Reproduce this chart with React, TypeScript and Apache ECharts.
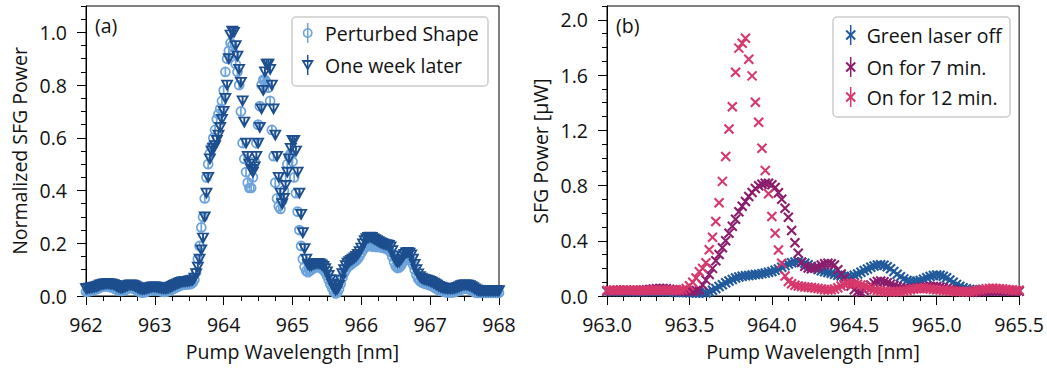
import React, { useEffect, useRef } from 'react';
import * as echarts from 'echarts';

// ---------- Panel (a): normalized SFG power, sampled every 0.025 nm from 962.000 nm ----------
const A_START = 962.0;
const A_STEP = 0.025;
const A_X_MIN = 962;
const A_X_MAX = 968;
const A_Y_MAJOR = [0, 0.2, 0.4, 0.6, 0.8, 1.0];
const A_Y_MINOR = [0, 0.05, 0.1, 0.15, 0.2, 0.25, 0.3, 0.35, 0.4, 0.45, 0.5, 0.55, 0.6, 0.65, 0.7, 0.75, 0.8, 0.85, 0.9, 0.95, 1.0, 1.05, 1.1];

const PERTURBED = [
  0.016, 0.017, 0.018, 0.020, 0.022, 0.024, 0.026, 0.029, 0.032, 0.034,
  0.036, 0.037, 0.037, 0.036, 0.034, 0.032, 0.030, 0.027, 0.024, 0.021,
  0.019, 0.019, 0.021, 0.024, 0.027, 0.030, 0.031, 0.030, 0.027, 0.024,
  0.020, 0.016, 0.014, 0.013, 0.014, 0.016, 0.018, 0.020, 0.022, 0.023,
  0.023, 0.022, 0.021, 0.019, 0.017, 0.016, 0.016, 0.017, 0.019, 0.022,
  0.025, 0.028, 0.031, 0.034, 0.037, 0.040, 0.042, 0.043, 0.044, 0.044,
  0.045, 0.046, 0.050, 0.062, 0.090, 0.140, 0.190, 0.260, 0.300, 0.370,
  0.450, 0.500, 0.540, 0.570, 0.600, 0.630, 0.670, 0.690, 0.710, 0.740,
  0.780, 0.850, 0.900, 0.930, 0.960, 0.950, 0.920, 0.880, 0.850, 0.800,
  0.700, 0.580, 0.520, 0.470, 0.430, 0.410, 0.410, 0.450, 0.510, 0.580,
  0.650, 0.720, 0.800, 0.820, 0.820, 0.810, 0.790, 0.740, 0.630, 0.530,
  0.430, 0.370, 0.340, 0.330, 0.360, 0.400, 0.450, 0.500, 0.530, 0.540,
  0.510, 0.450, 0.390, 0.320, 0.250, 0.190, 0.140, 0.110, 0.095, 0.090,
  0.095, 0.100, 0.105, 0.108, 0.110, 0.110, 0.108, 0.104, 0.098, 0.090,
  0.078, 0.062, 0.045, 0.030, 0.017, 0.010, 0.012, 0.026, 0.046, 0.070,
  0.086, 0.100, 0.110, 0.115, 0.120, 0.125, 0.130, 0.135, 0.142, 0.152,
  0.164, 0.176, 0.184, 0.188, 0.190, 0.190, 0.189, 0.187, 0.186, 0.186,
  0.186, 0.185, 0.184, 0.182, 0.180, 0.178, 0.174, 0.166, 0.150, 0.130,
  0.113, 0.106, 0.108, 0.116, 0.126, 0.136, 0.143, 0.146, 0.144, 0.136,
  0.120, 0.100, 0.080, 0.066, 0.057, 0.052, 0.049, 0.047, 0.045, 0.043,
  0.041, 0.038, 0.034, 0.030, 0.026, 0.023, 0.020, 0.018, 0.016, 0.015,
  0.014, 0.014, 0.014, 0.014, 0.015, 0.017, 0.019, 0.022, 0.025, 0.027,
  0.028, 0.028, 0.027, 0.025, 0.022, 0.018, 0.014, 0.012, 0.012, 0.012,
  0.012, 0.012, 0.012, 0.012, 0.012, 0.012, 0.012, 0.012, 0.012, 0.012,
  0.012,
];

const WEEK_LATER = [
  0.028, 0.029, 0.030, 0.032, 0.033, 0.034, 0.036, 0.038, 0.041, 0.043,
  0.045, 0.046, 0.047, 0.047, 0.046, 0.045, 0.043, 0.040, 0.036, 0.033,
  0.031, 0.031, 0.033, 0.036, 0.039, 0.041, 0.042, 0.041, 0.039, 0.036,
  0.032, 0.028, 0.026, 0.025, 0.026, 0.028, 0.030, 0.032, 0.034, 0.035,
  0.035, 0.034, 0.033, 0.031, 0.029, 0.028, 0.028, 0.029, 0.031, 0.034,
  0.037, 0.040, 0.043, 0.046, 0.049, 0.052, 0.054, 0.055, 0.056, 0.056,
  0.057, 0.058, 0.060, 0.068, 0.085, 0.110, 0.140, 0.175, 0.220, 0.300,
  0.390, 0.450, 0.520, 0.550, 0.560, 0.570, 0.590, 0.610, 0.640, 0.670,
  0.700, 0.750, 0.800, 0.900, 0.990, 1.005, 1.000, 0.950, 0.910, 0.860,
  0.810, 0.740, 0.660, 0.580, 0.530, 0.500, 0.480, 0.470, 0.490, 0.530,
  0.580, 0.640, 0.710, 0.780, 0.850, 0.880, 0.880, 0.860, 0.800, 0.710,
  0.610, 0.530, 0.450, 0.390, 0.350, 0.370, 0.420, 0.470, 0.520, 0.560,
  0.590, 0.590, 0.550, 0.470, 0.390, 0.310, 0.240, 0.180, 0.140, 0.120,
  0.115, 0.115, 0.120, 0.122, 0.124, 0.124, 0.122, 0.118, 0.112, 0.104,
  0.092, 0.078, 0.062, 0.046, 0.032, 0.022, 0.025, 0.040, 0.060, 0.085,
  0.100, 0.115, 0.125, 0.130, 0.135, 0.140, 0.145, 0.150, 0.158, 0.168,
  0.182, 0.198, 0.210, 0.218, 0.222, 0.223, 0.222, 0.218, 0.214, 0.210,
  0.206, 0.203, 0.200, 0.197, 0.195, 0.194, 0.192, 0.186, 0.172, 0.152,
  0.135, 0.128, 0.130, 0.138, 0.148, 0.158, 0.164, 0.166, 0.163, 0.156,
  0.140, 0.120, 0.100, 0.084, 0.074, 0.068, 0.064, 0.062, 0.060, 0.058,
  0.056, 0.053, 0.049, 0.045, 0.041, 0.037, 0.034, 0.032, 0.030, 0.029,
  0.028, 0.028, 0.028, 0.028, 0.029, 0.031, 0.033, 0.036, 0.039, 0.041,
  0.042, 0.042, 0.041, 0.039, 0.036, 0.032, 0.027, 0.023, 0.020, 0.020,
  0.020, 0.020, 0.020, 0.020, 0.020, 0.020, 0.020, 0.020, 0.020, 0.020,
  0.020,
];

// ---------- Panel (b): SFG power in µW, sampled every 0.02 nm from 963.00 nm ----------
const B_START = 963.0;
const B_STEP = 0.02;
const B_X_MIN = 963.0;
const B_X_MAX = 965.5;
const B_Y_MAJOR = [0, 0.4, 0.8, 1.2, 1.6, 2.0];
const B_Y_MINOR = [0, 0.1, 0.2, 0.3, 0.4, 0.5, 0.6, 0.7, 0.8, 0.9, 1.0, 1.1, 1.2, 1.3, 1.4, 1.5, 1.6, 1.7, 1.8, 1.9, 2.0, 2.1];

const LASER_OFF = [
  0.032, 0.032, 0.033, 0.033, 0.033, 0.032, 0.032, 0.031, 0.031, 0.031,
  0.031, 0.031, 0.032, 0.032, 0.033, 0.033, 0.033, 0.032, 0.031, 0.030,
  0.029, 0.028, 0.027, 0.026, 0.025, 0.024, 0.023, 0.022, 0.021, 0.021,
  0.022, 0.030, 0.042, 0.055, 0.068, 0.082, 0.096, 0.108, 0.120, 0.130,
  0.138, 0.143, 0.146, 0.149, 0.152, 0.155, 0.158, 0.162, 0.166, 0.172,
  0.178, 0.186, 0.196, 0.208, 0.220, 0.232, 0.241, 0.247, 0.249, 0.245,
  0.237, 0.226, 0.214, 0.202, 0.192, 0.183, 0.176, 0.170, 0.164, 0.157,
  0.150, 0.144, 0.140, 0.139, 0.142, 0.150, 0.160, 0.172, 0.184, 0.196,
  0.208, 0.218, 0.224, 0.226, 0.222, 0.212, 0.197, 0.178, 0.158, 0.140,
  0.124, 0.112, 0.105, 0.103, 0.106, 0.113, 0.122, 0.132, 0.141, 0.148,
  0.152, 0.150, 0.143, 0.132, 0.116, 0.099, 0.083, 0.070, 0.060, 0.053,
  0.048, 0.045, 0.043, 0.041, 0.040, 0.039, 0.039, 0.038, 0.038, 0.038,
  0.038, 0.038, 0.037, 0.037, 0.037, 0.037,
];

const ON_7_MIN = [
  0.038, 0.039, 0.040, 0.041, 0.042, 0.042, 0.042, 0.041, 0.040, 0.040,
  0.041, 0.043, 0.045, 0.048, 0.051, 0.053, 0.054, 0.054, 0.052, 0.049,
  0.046, 0.043, 0.040, 0.038, 0.036, 0.035, 0.035, 0.040, 0.045, 0.080,
  0.115, 0.155, 0.200, 0.255, 0.300, 0.350, 0.400, 0.455, 0.505, 0.555,
  0.610, 0.650, 0.685, 0.720, 0.750, 0.778, 0.798, 0.810, 0.816, 0.816,
  0.805, 0.785, 0.748, 0.700, 0.635, 0.570, 0.475, 0.385, 0.310, 0.245,
  0.215, 0.202, 0.198, 0.202, 0.212, 0.224, 0.234, 0.238, 0.234, 0.224,
  0.190, 0.160, 0.130, 0.100, 0.072, 0.045, 0.030, 0.028, 0.040, 0.060,
  0.080, 0.095, 0.105, 0.108, 0.104, 0.096, 0.086, 0.076, 0.067, 0.060,
  0.055, 0.053, 0.053, 0.055, 0.058, 0.062, 0.065, 0.068, 0.069, 0.069,
  0.068, 0.065, 0.060, 0.054, 0.048, 0.043, 0.038, 0.034, 0.031, 0.029,
  0.028, 0.028, 0.029, 0.030, 0.032, 0.034, 0.035, 0.036, 0.036, 0.036,
  0.036, 0.035, 0.035, 0.034, 0.034, 0.034,
];

const ON_12_MIN = [
  0.040, 0.040, 0.041, 0.041, 0.042, 0.042, 0.042, 0.041, 0.041, 0.040,
  0.040, 0.040, 0.040, 0.040, 0.041, 0.041, 0.042, 0.042, 0.042, 0.041,
  0.040, 0.040, 0.041, 0.045, 0.055, 0.075, 0.100, 0.130, 0.175, 0.200,
  0.240, 0.335, 0.425, 0.540, 0.675, 0.830, 1.010, 1.210, 1.370, 1.620,
  1.795, 1.830, 1.867, 1.715, 1.594, 1.403, 1.258, 1.070, 0.908, 0.740,
  0.575, 0.454, 0.333, 0.237, 0.145, 0.105, 0.088, 0.078, 0.072, 0.068,
  0.066, 0.064, 0.062, 0.058, 0.054, 0.050, 0.046, 0.044, 0.045, 0.050,
  0.060, 0.072, 0.084, 0.091, 0.093, 0.091, 0.086, 0.080, 0.072, 0.062,
  0.052, 0.045, 0.040, 0.036, 0.033, 0.031, 0.030, 0.030, 0.031, 0.033,
  0.036, 0.040, 0.045, 0.050, 0.054, 0.056, 0.056, 0.054, 0.051, 0.048,
  0.045, 0.043, 0.041, 0.039, 0.037, 0.035, 0.033, 0.032, 0.031, 0.031,
  0.032, 0.035, 0.039, 0.044, 0.049, 0.053, 0.055, 0.056, 0.055, 0.053,
  0.050, 0.047, 0.045, 0.043, 0.042, 0.042,
];

const LIGHT_BLUE = '#6ca3db';
const DARK_BLUE = '#1d4e8e';
const B_BLUE = '#215a9c';
const B_PURPLE = '#8b1d6d';
const B_RED = '#d7386b';
const TEXT = '#111111';
const FONT = '"Open Sans", "Noto Sans", sans-serif';
const FS = 19.5;

const CIRCLE_BAR = 'path://M0,5A5,5,0,1,1,10,5A5,5,0,1,1,0,5ZM5,0L5,10';
const TRI_BAR = 'path://M0,0L10,0L5,9ZM5,0L5,9';
const X_MARK = 'path://M0,0L10,10M10,0L0,10';

function toPoints(start: number, step: number, vals: number[]) {
  return vals.map((v, i) => [Math.round((start + i * step) * 1000) / 1000, v]);
}

function mainYAxis(gridIndex: number, max: number, interval: number, major: number[], name: string) {
  return {
    type: 'value', gridIndex, position: 'left', min: 0, max, interval,
    name, nameLocation: 'middle', nameGap: 57, nameRotate: 90,
    nameTextStyle: { fontFamily: FONT, fontSize: FS, color: TEXT },
    axisLine: { show: true, lineStyle: { color: '#000', width: 1 } },
    axisTick: { show: true, inside: false, length: 9, customValues: major, lineStyle: { color: '#000', width: 1 } },
    axisLabel: {
      show: true, margin: 19, customValues: major,
      fontFamily: FONT, fontSize: FS, color: TEXT,
      formatter: (v: number) => v.toFixed(1),
    },
    splitLine: { show: false },
  };
}

function minorYAxis(gridIndex: number, max: number, minor: number[]) {
  return {
    type: 'value', gridIndex, position: 'left', min: 0, max,
    axisLine: { show: false },
    axisTick: { show: true, inside: false, length: 5, customValues: minor, lineStyle: { color: '#000', width: 1 } },
    axisLabel: { show: false },
    splitLine: { show: false },
  };
}

function xAxis(gridIndex: number, min: number, max: number, interval: number, split: number, digits: number) {
  return {
    type: 'value', gridIndex, min, max, interval,
    name: 'Pump Wavelength [nm]', nameLocation: 'middle', nameGap: 45,
    nameTextStyle: { fontFamily: FONT, fontSize: FS, color: TEXT },
    axisLine: { show: true, onZero: false, lineStyle: { color: '#000', width: 1 } },
    axisTick: { show: true, inside: false, length: 9, lineStyle: { color: '#000', width: 1 } },
    minorTick: { show: true, splitNumber: split, length: 5, lineStyle: { color: '#000', width: 1 } },
    axisLabel: {
      show: true, margin: 18, fontFamily: FONT, fontSize: FS, color: TEXT,
      formatter: (v: number) => v.toFixed(digits),
    },
    splitLine: { show: false },
    minorSplitLine: { show: false },
  };
}

function legendGraphics() {
  const els: any[] = [];
  const txt = (x: number, y: number, s: string) => ({
    type: 'text', z: 100,
    style: { text: s, x, y, fill: TEXT, font: `${FS}px ${FONT}`, align: 'left', verticalAlign: 'middle' },
  });
  // panel labels
  els.push(txt(95, 25, '(a)'));
  els.push(txt(616, 25, '(b)'));
  // legend (a)
  els.push({ type: 'rect', z: 90, shape: { x: 292, y: 17, width: 196, height: 69, r: 4 },
    style: { fill: 'rgba(255,255,255,0.8)', stroke: '#cccccc', lineWidth: 1.5 } });
  els.push({ type: 'line', z: 100, shape: { x1: 307.7, y1: 23, x2: 307.7, y2: 43 }, style: { stroke: LIGHT_BLUE, lineWidth: 1.5 } });
  els.push({ type: 'circle', z: 100, shape: { cx: 307.7, cy: 33, r: 4.2 }, style: { fill: 'none', stroke: LIGHT_BLUE, lineWidth: 1.6 } });
  els.push(txt(325, 33, 'Perturbed Shape'));
  els.push({ type: 'line', z: 100, shape: { x1: 307.7, y1: 55, x2: 307.7, y2: 75 }, style: { stroke: DARK_BLUE, lineWidth: 1.5 } });
  els.push({ type: 'polygon', z: 100, shape: { points: [[303, 61], [312.4, 61], [307.7, 69]] }, style: { fill: 'none', stroke: DARK_BLUE, lineWidth: 1.8 } });
  els.push(txt(325, 65, 'One week later'));
  // legend (b)
  els.push({ type: 'rect', z: 90, shape: { x: 833, y: 17, width: 177, height: 100, r: 4 },
    style: { fill: 'rgba(255,255,255,0.8)', stroke: '#cccccc', lineWidth: 1.5 } });
  const rowsB: [number, string, string][] = [[35, B_BLUE, 'Green laser off'], [67, B_PURPLE, 'On for 7 min.'], [97, B_RED, 'On for 12 min.']];
  rowsB.forEach(([y, c, s]) => {
    const cx = 850.7;
    els.push({ type: 'line', z: 100, shape: { x1: cx, y1: y - 10, x2: cx, y2: y + 10 }, style: { stroke: c, lineWidth: 1.5 } });
    els.push({ type: 'line', z: 100, shape: { x1: cx - 4.5, y1: y - 4.5, x2: cx + 4.5, y2: y + 4.5 }, style: { stroke: c, lineWidth: 2 } });
    els.push({ type: 'line', z: 100, shape: { x1: cx + 4.5, y1: y - 4.5, x2: cx - 4.5, y2: y + 4.5 }, style: { stroke: c, lineWidth: 2 } });
    els.push(txt(866.7, y, s));
  });
  return els;
}

export default function App() {
  const ref = useRef<HTMLDivElement>(null);
  useEffect(() => {
    if (!ref.current) return;
    const chart = echarts.init(ref.current, undefined, { renderer: 'svg' });
    const scatter = (name: string, xi: number, yi: number, data: number[][], symbol: string, size: any, color: string, bw: number) => ({
      type: 'scatter', name, xAxisIndex: xi, yAxisIndex: yi, data,
      symbol, symbolSize: size, clip: true,
      itemStyle: { color: 'rgba(0,0,0,0)', borderColor: color, borderWidth: bw, opacity: 1 },
      emphasis: { disabled: true },
    });
    chart.setOption({
      animation: false,
      backgroundColor: '#ffffff',
      textStyle: { fontFamily: FONT },
      grid: [
        { left: 86, top: 6, width: 413, height: 290, show: true, borderColor: '#000', borderWidth: 1, backgroundColor: 'transparent' },
        { left: 607, top: 6, width: 414, height: 290, show: true, borderColor: '#000', borderWidth: 1, backgroundColor: 'transparent' },
      ],
      xAxis: [
        xAxis(0, A_X_MIN, A_X_MAX, 1, 4, 0),
        xAxis(1, B_X_MIN, B_X_MAX, 0.5, 5, 1),
      ],
      yAxis: [
        mainYAxis(0, 1.1, 0.2, A_Y_MAJOR, 'Normalized SFG Power'),
        minorYAxis(0, 1.1, A_Y_MINOR),
        mainYAxis(1, 2.1, 0.4, B_Y_MAJOR, 'SFG Power [μW]'),
        minorYAxis(1, 2.1, B_Y_MINOR),
      ],
      series: [
        scatter('Perturbed Shape', 0, 0, toPoints(A_START, A_STEP, PERTURBED), CIRCLE_BAR, 9, LIGHT_BLUE, 1.7),
        scatter('One week later', 0, 0, toPoints(A_START, A_STEP, WEEK_LATER), TRI_BAR, [10, 9], DARK_BLUE, 1.8),
        scatter('Green laser off', 1, 2, toPoints(B_START, B_STEP, LASER_OFF), X_MARK, 9, B_BLUE, 2.1),
        scatter('On for 7 min.', 1, 2, toPoints(B_START, B_STEP, ON_7_MIN), X_MARK, 9, B_PURPLE, 2.1),
        scatter('On for 12 min.', 1, 2, toPoints(B_START, B_STEP, ON_12_MIN), X_MARK, 9, B_RED, 2.1),
      ],
      graphic: legendGraphics(),
    });
    return () => chart.dispose();
  }, []);
  return <div ref={ref} style={{ position: 'absolute', left: 0, top: 0, width: 1047, height: 369 }} />;
}
